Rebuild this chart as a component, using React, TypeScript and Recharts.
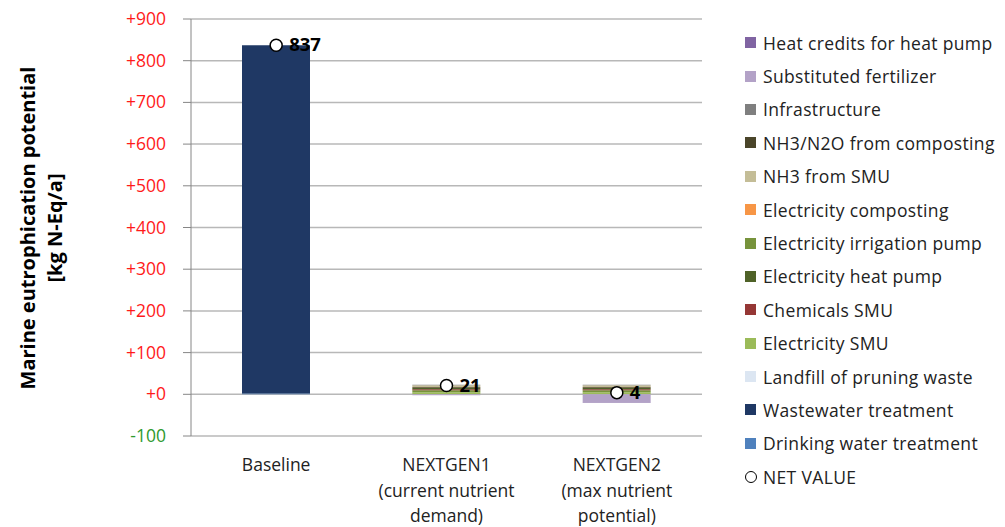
import { Bar, CartesianGrid, ComposedChart, LabelList, Line, XAxis, YAxis } from 'recharts'

const scenarios = ['Baseline', 'NEXTGEN1\n(current nutrient\ndemand)', 'NEXTGEN2\n(max nutrient\npotential)']

const drinkingWater = [2, 0, 0]
const wastewater = [835, 0, 0]
const landfill = [0, 0, 0]
const electricitySmu = [0, 5, 5]
const electricityIrrigation = [0, 5, 5]
const chemicalsSmu = [0, 2, 2]
const electricityHeatPump = [0, 3, 3]
const electricityComposting = [0, 0.5, 0.5]
const nh3n2oComposting = [0, 2, 2]
const nh3Smu = [0, 4, 4]
const infrastructure = [0, 1.5, 1.5]
const substitutedFertilizer = [0, -2, -19]
const heatCredits = [0, -0.5, -1]
const netValue = [837, 21, 4]

const yTicks = [-100, 0, 100, 200, 300, 400, 500, 600, 700, 800, 900]

// stack order, bottom up
const series = [
  { key: 'drinking', name: 'Drinking water treatment', color: '#4f81bd', values: drinkingWater },
  { key: 'wastewater', name: 'Wastewater treatment', color: '#1f3864', values: wastewater },
  { key: 'landfill', name: 'Landfill of pruning waste', color: '#dce6f2', values: landfill },
  { key: 'elecSmu', name: 'Electricity SMU', color: '#9bbb59', values: electricitySmu },
  { key: 'elecIrr', name: 'Electricity irrigation pump', color: '#77933c', values: electricityIrrigation },
  { key: 'chemSmu', name: 'Chemicals SMU', color: '#953735', values: chemicalsSmu },
  { key: 'elecHeat', name: 'Electricity heat pump', color: '#4f6228', values: electricityHeatPump },
  { key: 'elecComp', name: 'Electricity composting', color: '#f79646', values: electricityComposting },
  { key: 'nh3Comp', name: 'NH3/N2O from composting', color: '#4a452a', values: nh3n2oComposting },
  { key: 'nh3Smu', name: 'NH3 from SMU', color: '#c4bd97', values: nh3Smu },
  { key: 'infra', name: 'Infrastructure', color: '#7f7f7f', values: infrastructure },
  { key: 'fert', name: 'Substituted fertilizer', color: '#b3a2c7', values: substitutedFertilizer },
  { key: 'heatCred', name: 'Heat credits for heat pump', color: '#8064a2', values: heatCredits },
]

const legendOrder = [
  'heatCred', 'fert', 'infra', 'nh3Comp', 'nh3Smu', 'elecComp', 'elecIrr',
  'elecHeat', 'chemSmu', 'elecSmu', 'landfill', 'wastewater', 'drinking',
]

const data = scenarios.map((name, i) => {
  const row: Record<string, number | string> = { name, net: netValue[i] }
  series.forEach((s) => (row[s.key] = s.values[i]))
  return row
})

const font = '"Open Sans", sans-serif'

function YTick({ x, y, payload }: any) {
  const v = payload.value
  const label = v >= 0 ? `+${v}` : `${v}`
  return (
    <text x={x} y={y} dy={6} textAnchor="end" fontSize={17.5} fontFamily={font} fill={v < 0 ? '#2e9a2e' : '#ff1a1a'}>
      {label}
    </text>
  )
}

function XTick({ x, y, payload }: any) {
  const lines = String(payload.value).split('\n')
  return (
    <text x={x} y={y} textAnchor="middle" fontSize={17.5} fontFamily={font} fill="#222">
      {lines.map((l, i) => (
        <tspan key={i} x={x} dy={i === 0 ? 27 : 25.5}>
          {l}
        </tspan>
      ))}
    </text>
  )
}

function NetLabel({ x, y, value }: any) {
  return (
    <text x={x + 13} y={y} dy={6} fontSize={18.5} fontWeight="bold" fontFamily={font} fill="#000">
      {value}
    </text>
  )
}

export default function App() {
  const rowStyle = {
    display: 'flex',
    alignItems: 'center',
    height: 33.4,
    fontSize: 17.5,
    letterSpacing: 0.35,
    color: '#222',
    whiteSpace: 'nowrap' as const,
  }
  return (
    <div style={{ position: 'absolute', left: 0, top: 0, width: 1005, height: 527, background: '#fff', fontFamily: font }}>
      <ComposedChart
        width={1005}
        height={527}
        data={data}
        stackOffset="sign"
        margin={{ top: 19, right: 303, bottom: 0, left: 111 }}
        barCategoryGap={51}
      >
        <CartesianGrid vertical={false} stroke="#b8b8b8" strokeWidth={1.5} />
        <XAxis dataKey="name" height={91} axisLine={false} tickLine={false} tick={<XTick />} interval={0} />
        <YAxis
          domain={[-100, 900]}
          ticks={yTicks}
          width={80}
          stroke="#868686"
          tickSize={8}
          tickMargin={17}
          tick={<YTick />}
          interval={0}
        />
        {series.map((s) => (
          <Bar key={s.key} dataKey={s.key} stackId="a" fill={s.color} barSize={68} isAnimationActive={false} />
        ))}
        <Line
          dataKey="net"
          stroke="none"
          dot={{ r: 6, fill: '#fff', stroke: '#000', strokeWidth: 1.5 }}
          activeDot={false}
          isAnimationActive={false}
        >
          <LabelList dataKey="net" content={<NetLabel />} />
        </Line>
      </ComposedChart>

      <div
        style={{
          position: 'absolute',
          left: 41,
          top: 228,
          transform: 'translate(-50%, -50%) rotate(-90deg)',
          whiteSpace: 'nowrap',
          textAlign: 'center',
          fontWeight: 'bold',
          fontSize: 20,
          lineHeight: '27px',
          color: '#000',
        }}
      >
        Marine eutrophication potential
        <br />
        [kg N-Eq/a]
      </div>

      <div style={{ position: 'absolute', left: 745, top: 26 }}>
        {legendOrder.map((k) => {
          const s = series.find((x) => x.key === k)!
          return (
            <div key={k} style={rowStyle}>
              <span style={{ width: 11, height: 11, background: s.color, marginRight: 7, display: 'inline-block' }} />
              {s.name}
            </div>
          )
        })}
        <div style={rowStyle}>
          <span
            style={{
              width: 10,
              height: 10,
              borderRadius: '50%',
              border: '1.2px solid #000',
              marginRight: 6,
              display: 'inline-block',
            }}
          />
          NET VALUE
        </div>
      </div>
    </div>
  )
}
